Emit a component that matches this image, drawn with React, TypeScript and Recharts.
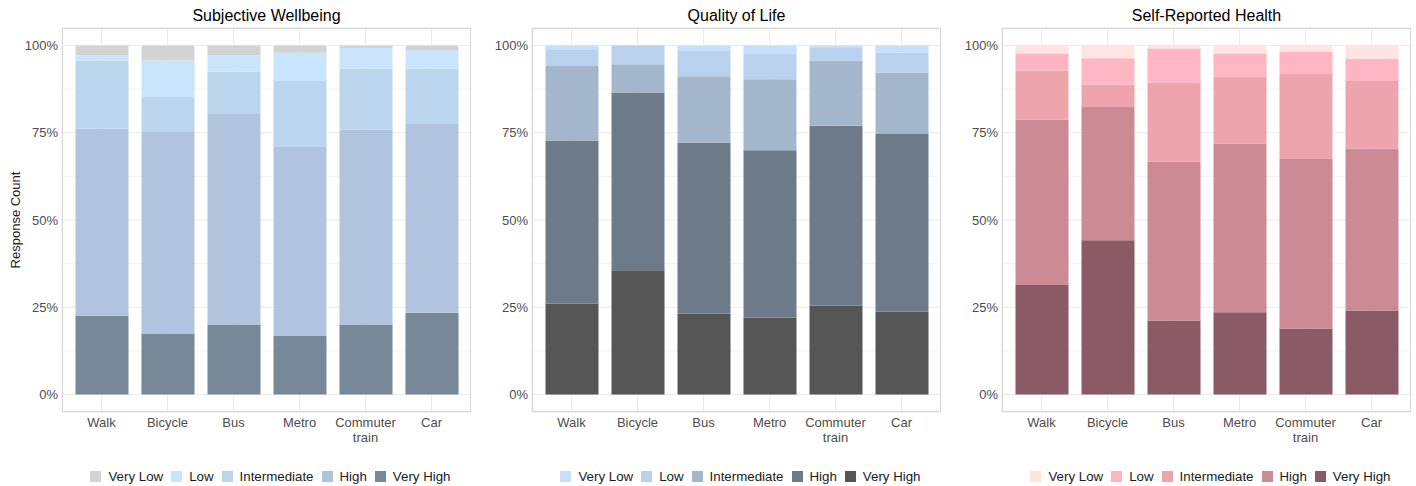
import React from 'react';
import { BarChart, Bar, XAxis, YAxis, CartesianGrid } from 'recharts';

// transport modes on the x axis
const modes = ['Walk', 'Bicycle', 'Bus', 'Metro', 'Commuter train', 'Car'];
const levels = ['Very Low', 'Low', 'Intermediate', 'High', 'Very High'];
const percentTicks = [0, 25, 50, 75, 100];
const minorTicks = [12.5, 37.5, 62.5, 87.5];

// Subjective Wellbeing, share of responses (%)
const swbVeryLow = [2.8, 4.3, 2.8, 2.1, 0.7, 1.4];
const swbLow = [1.5, 10.5, 4.7, 8.1, 6.0, 5.2];
const swbIntermediate = [19.5, 10.0, 12.1, 18.9, 17.4, 15.7];
const swbHigh = [53.6, 57.7, 60.3, 54.0, 55.8, 54.3];
const swbVeryHigh = [22.6, 17.5, 20.1, 16.9, 20.1, 23.4];

// Quality of Life
const qolVeryLow = [1.3, 0.0, 1.6, 2.3, 0.5, 2.1];
const qolLow = [4.6, 5.4, 7.2, 7.4, 3.8, 5.7];
const qolIntermediate = [21.3, 8.1, 19.1, 20.3, 18.7, 17.6];
const qolHigh = [46.8, 50.9, 48.9, 47.9, 51.5, 50.8];
const qolVeryHigh = [26.0, 35.6, 23.2, 22.1, 25.5, 23.8];

// Self-Reported Health
const srhVeryLow = [2.3, 3.7, 0.9, 2.3, 1.9, 3.8];
const srhLow = [4.9, 7.5, 9.7, 6.7, 6.3, 6.4];
const srhIntermediate = [14.0, 6.4, 22.7, 19.1, 24.3, 19.3];
const srhHigh = [47.4, 38.2, 45.5, 48.3, 48.6, 46.4];
const srhVeryHigh = [31.4, 44.2, 21.2, 23.6, 18.9, 24.1];

const FONT = '"Liberation Sans", Arial, Helvetica, sans-serif';
const CHART_W = 470;
const CHART_H = 486;
const Y_AXIS_W = 61;
const PLOT_W = 409;
const PLOT_TOP = 28;
const X_AXIS_H = 74;

type Panel = {
  title: string;
  left: number;
  colors: string[];
  series: number[][];
  yTitle?: string;
};

const panels: Panel[] = [
  {
    title: 'Subjective Wellbeing',
    left: 1,
    colors: ['#d3d3d3', '#c9e5fd', '#bbd5ed', '#b0c4de', '#778899'],
    series: [swbVeryLow, swbLow, swbIntermediate, swbHigh, swbVeryHigh],
    yTitle: 'Response Count',
  },
  {
    title: 'Quality of Life',
    left: 471,
    colors: ['#c6e0fc', '#b9d1ed', '#a4b6cc', '#6d7a8a', '#555555'],
    series: [qolVeryLow, qolLow, qolIntermediate, qolHigh, qolVeryHigh],
  },
  {
    title: 'Self-Reported Health',
    left: 941,
    colors: ['#ffe4e1', '#ffb5c2', '#eea4ac', '#cc8a95', '#8a5a66'],
    series: [srhVeryLow, srhLow, srhIntermediate, srhHigh, srhVeryHigh],
  },
];

function ModeTick(props: any) {
  const { x, y, payload } = props;
  const label: string = payload.value;
  const lines = label.length > 10 && label.includes(' ') ? label.split(' ') : [label];
  return (
    <text x={x} y={y} textAnchor="middle" fill="#4d4d4d" fontSize={13} fontFamily={FONT}>
      {lines.map((line, i) => (
        <tspan key={i} x={x} dy={i === 0 ? 14.5 : 15}>
          {line}
        </tspan>
      ))}
    </text>
  );
}

function PanelChart({ panel }: { panel: Panel }) {
  const rows = modes.map((mode, i) => {
    const row: Record<string, string | number> = { mode };
    levels.forEach((lvl, j) => {
      row[lvl] = panel.series[j][i];
    });
    return row;
  });
  const plotLeft = panel.left + Y_AXIS_W;
  const plotH = CHART_H - PLOT_TOP - X_AXIS_H;

  return (
    <>
      <div
        style={{
          position: 'absolute',
          left: plotLeft,
          top: 6,
          width: PLOT_W,
          textAlign: 'center',
          fontSize: 16,
          lineHeight: '20px',
          color: '#000',
        }}
      >
        {panel.title}
      </div>

      <div style={{ position: 'absolute', left: panel.left, top: 0 }}>
        <BarChart
          width={CHART_W}
          height={CHART_H}
          data={rows}
          margin={{ top: PLOT_TOP, right: 0, bottom: 0, left: 0 }}
          barSize={53}
        >
          <CartesianGrid vertical={false} horizontalValues={minorTicks} stroke="#f3f3f3" />
          <CartesianGrid stroke="#ebebeb" />
          <XAxis
            dataKey="mode"
            height={X_AXIS_H}
            padding={{ left: 6.5, right: 6.5 }}
            axisLine={false}
            tickLine={false}
            tickSize={0}
            tickMargin={0}
            interval={0}
            tick={<ModeTick />}
          />
          <YAxis
            width={Y_AXIS_W}
            domain={[-5, 105]}
            ticks={percentTicks}
            tickFormatter={(v: number) => `${v}%`}
            axisLine={false}
            tickLine={false}
            tickSize={0}
            tickMargin={4}
            tick={{ fill: '#4d4d4d', fontSize: 13, fontFamily: FONT }}
          />
          {/* bottom of the stack is the last level, so draw in reverse */}
          {[...levels].reverse().map((lvl) => (
            <Bar
              key={lvl}
              dataKey={lvl}
              stackId="s"
              fill={panel.colors[levels.indexOf(lvl)]}
              isAnimationActive={false}
            />
          ))}
        </BarChart>
      </div>

      <div
        style={{
          position: 'absolute',
          left: plotLeft,
          top: PLOT_TOP,
          width: PLOT_W,
          height: plotH,
          boxSizing: 'border-box',
          border: '1px solid #d6d6d6',
          pointerEvents: 'none',
        }}
      />

      {panel.yTitle && (
        <div
          style={{
            position: 'absolute',
            left: 15,
            top: PLOT_TOP + plotH / 2,
            transform: 'translate(-50%, -50%) rotate(-90deg)',
            whiteSpace: 'nowrap',
            fontSize: 13,
            color: '#1a1a1a',
          }}
        >
          {panel.yTitle}
        </div>
      )}

      <div
        style={{
          position: 'absolute',
          left: plotLeft + 4,
          top: 467,
          width: PLOT_W,
          display: 'flex',
          justifyContent: 'center',
          alignItems: 'center',
          fontSize: 13.3,
          color: '#1a1a1a',
          height: 18,
        }}
      >
        {levels.map((lvl, j) => (
          <div key={lvl} style={{ display: 'flex', alignItems: 'center', marginLeft: j === 0 ? 0 : 8 }}>
            <span style={{ width: 11, height: 11, background: panel.colors[j], display: 'inline-block' }} />
            <span style={{ marginLeft: 7, whiteSpace: 'nowrap' }}>{lvl}</span>
          </div>
        ))}
      </div>
    </>
  );
}

export default function App() {
  return (
    <div
      style={{
        position: 'absolute',
        left: 0,
        top: 0,
        width: 1416,
        height: 486,
        background: '#fff',
        fontFamily: FONT,
        overflow: 'hidden',
      }}
    >
      {panels.map((p) => (
        <PanelChart key={p.title} panel={p} />
      ))}
    </div>
  );
}
